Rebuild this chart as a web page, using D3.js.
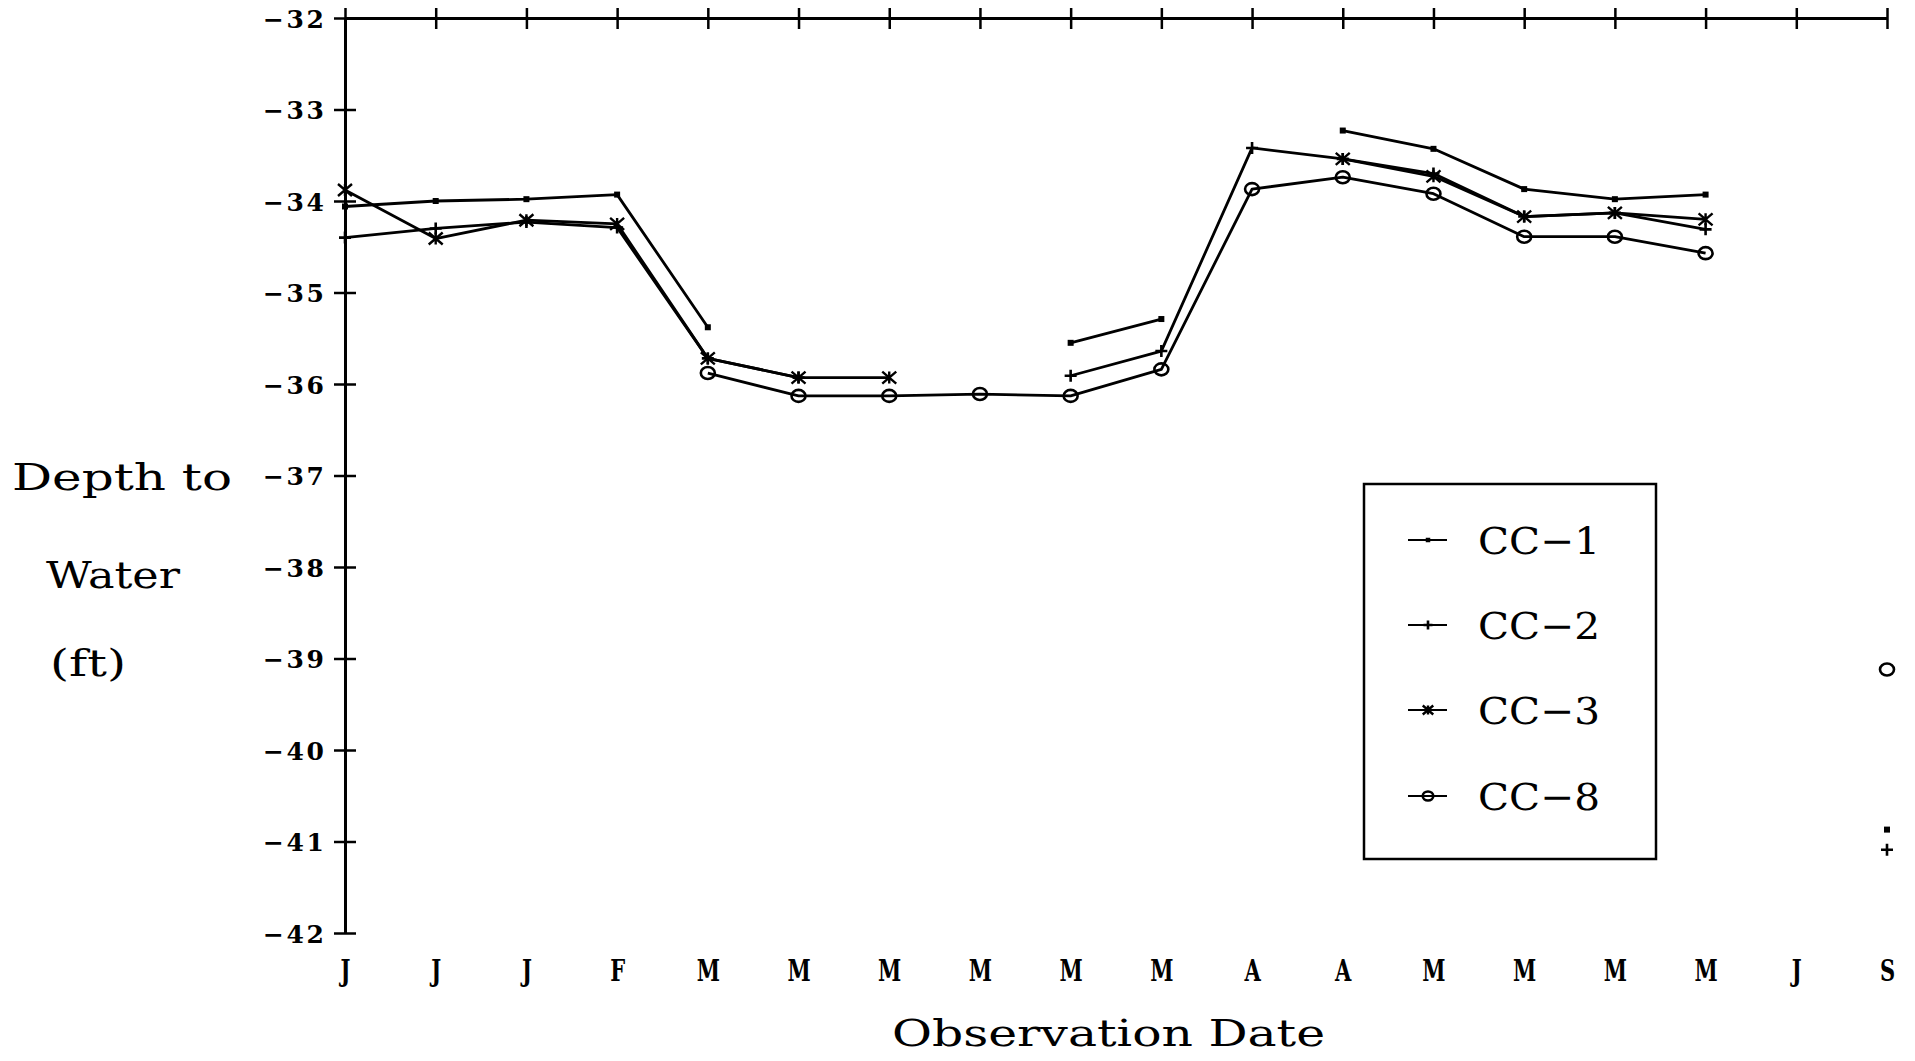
<!DOCTYPE html>
<html>
<head>
<meta charset="utf-8">
<script src="https://cdn.jsdelivr.net/npm/d3@7"></script>
<style>
  html, body { margin: 0; padding: 0; background: #fff; }
  svg { display: block; }
</style>
</head>
<body>
<svg id="chart" width="1915" height="1061"></svg>
<script>
// ---- Data ----
const dateLabels = ["J","J","J","F","M","M","M","M","M","M","A","A","M","M","M","M","J","S"];
const yTickValues = [-32,-33,-34,-35,-36,-37,-38,-39,-40,-41,-42];
const seriesNames = ["CC\u22121","CC\u22122","CC\u22123","CC\u22128"];
const cc1 = [-34.06,-34.00,-33.98,-33.93,-35.38,null,null,null,-35.55,-35.29,null,-33.23,-33.43,-33.87,-33.98,-33.93,null,-40.87];
const cc2 = [-34.40,-34.30,-34.23,-34.29,-35.72,-35.93,null,null,-35.91,-35.64,-33.42,-33.54,-33.70,-34.17,-34.13,-34.31,null,-41.09];
const cc3 = [-33.88,-34.41,-34.21,-34.25,-35.72,-35.93,-35.93,null,null,null,null,-33.54,-33.73,-34.17,-34.13,-34.20,null,null];
const cc8 = [null,null,null,null,-35.88,-36.13,-36.13,-36.11,-36.13,-35.84,-33.87,-33.74,-33.92,-34.39,-34.39,-34.57,null,-39.12];
const markerTypes = ["square","plus","star","circle"];

const series = [cc1, cc2, cc3, cc8].map((vals, k) => ({
  name: seriesNames[k],
  marker: markerTypes[k],
  values: vals.map((v, i) => ({ i, v }))
}));

// ---- Layout ----
const svg = d3.select("#chart");
const x = d3.scalePoint().domain(d3.range(dateLabels.length)).range([345, 1887]).padding(0);
const y = d3.scaleLinear().domain([-42, -32]).range([933, 18]);

const ink = "#000";

// Left axis
const gy = svg.append("g").attr("transform", `translate(${x(0)},0)`)
  .call(d3.axisLeft(y).tickValues(yTickValues).tickSizeOuter(0).tickSizeInner(0)
    .tickFormat(d => "\u2212" + Math.abs(d)));
gy.select(".domain").attr("stroke", ink).attr("stroke-width", 3);
gy.selectAll(".tick line").attr("x1", -11).attr("x2", 11).attr("stroke", ink).attr("stroke-width", 2.5);
gy.selectAll(".tick text")
  .attr("x", -21).attr("dy", "0.36em")
  .attr("font-family", "'DejaVu Serif', serif").attr("font-weight", "bold")
  .attr("font-size", 25).attr("fill", ink)
  .each(function() {
    const w = this.getComputedTextLength();
    d3.select(this).attr("textLength", 61).attr("lengthAdjust", w > 61 ? "spacingAndGlyphs" : "spacing");
  });

// Top axis (line with crossing ticks, no labels)
const gt = svg.append("g").attr("transform", `translate(0,${y(-32)})`)
  .call(d3.axisTop(x).tickSizeOuter(0).tickSizeInner(0).tickFormat(""));
gt.select(".domain").attr("stroke", ink).attr("stroke-width", 3);
gt.selectAll(".tick line").attr("y1", -10).attr("y2", 11).attr("stroke", ink).attr("stroke-width", 2.5);

// Bottom labels (no axis line)
const gb = svg.append("g").attr("transform", `translate(0,${y(-42)})`)
  .call(d3.axisBottom(x).tickSize(0).tickFormat(i => dateLabels[i]));
gb.select(".domain").remove();
gb.selectAll(".tick text")
  .attr("y", 48).attr("dy", null)
  .attr("font-family", "'DejaVu Serif', serif").attr("font-weight", "bold")
  .attr("font-size", 30).attr("fill", ink)
  .each(function() {
    const w = this.getComputedTextLength();
    d3.select(this).attr("textLength", w * 0.7).attr("lengthAdjust", "spacingAndGlyphs");
  });

// Lines
const line = d3.line().defined(d => d.v != null).x(d => x(d.i)).y(d => y(d.v));
svg.append("g").selectAll("path").data(series).join("path")
  .attr("d", s => line(s.values))
  .attr("fill", "none").attr("stroke", ink).attr("stroke-width", 2.8)
  .attr("stroke-linejoin", "round");

// Marker drawing
function drawMarker(g, type, cx, cy, s) {
  if (type === "square") {
    g.append("rect").attr("x", cx - 3 * s).attr("y", cy - 3 * s)
      .attr("width", 6 * s).attr("height", 6 * s).attr("fill", ink);
  } else if (type === "plus") {
    g.append("path").attr("d", `M${cx - 6 * s},${cy}H${cx + 6 * s}M${cx},${cy - 6 * s}V${cy + 6 * s}`)
      .attr("stroke", ink).attr("stroke-width", 2.6).attr("fill", "none");
  } else if (type === "star") {
    const a = 7 * s, b = 6 * s;
    g.append("path").attr("d",
      `M${cx},${cy - b}V${cy + b}M${cx - a},${cy - b}L${cx + a},${cy + b}M${cx - a},${cy + b}L${cx + a},${cy - b}`)
      .attr("stroke", ink).attr("stroke-width", 2.4).attr("fill", "none");
  } else if (type === "circle") {
    g.append("ellipse").attr("cx", cx).attr("cy", cy).attr("rx", 7 * s).attr("ry", 6 * s)
      .attr("stroke", ink).attr("stroke-width", 2.6).attr("fill", "none");
  }
}

const gm = svg.append("g");
series.forEach(s => {
  s.values.filter(d => d.v != null).forEach(d => drawMarker(gm, s.marker, x(d.i), y(d.v), 1));
});

// Legend
const lg = svg.append("g");
lg.append("rect").attr("x", 1364).attr("y", 484).attr("width", 292).attr("height", 375)
  .attr("fill", "#fff").attr("stroke", ink).attr("stroke-width", 2.5);
const legendRowY = [540, 625, 710, 796];
series.forEach((s, k) => {
  const cy = legendRowY[k];
  lg.append("line").attr("x1", 1408).attr("x2", 1447).attr("y1", cy).attr("y2", cy)
    .attr("stroke", ink).attr("stroke-width", 2.2);
  drawMarker(lg, s.marker, 1428, cy, 0.75);
  lg.append("text").attr("x", 1478).attr("y", cy + 14)
    .attr("font-family", "'DejaVu Serif', serif").attr("font-size", 38).attr("fill", ink)
    .attr("textLength", 122).attr("lengthAdjust", "spacingAndGlyphs")
    .text(s.name);
});

// Axis titles
const titleFont = "'DejaVu Serif', serif";
svg.append("text").attr("x", 12).attr("y", 490).attr("font-family", titleFont).attr("font-size", 38)
  .attr("fill", ink).attr("textLength", 220).attr("lengthAdjust", "spacingAndGlyphs").text("Depth to");
svg.append("text").attr("x", 46).attr("y", 588).attr("font-family", titleFont).attr("font-size", 38)
  .attr("fill", ink).attr("textLength", 134).attr("lengthAdjust", "spacingAndGlyphs").text("Water");
svg.append("text").attr("x", 50).attr("y", 676).attr("font-family", titleFont).attr("font-size", 38)
  .attr("fill", ink).attr("textLength", 76).attr("lengthAdjust", "spacingAndGlyphs").text("(ft)");
svg.append("text").attr("x", 892).attr("y", 1046).attr("font-family", titleFont).attr("font-size", 38)
  .attr("fill", ink).attr("textLength", 433).attr("lengthAdjust", "spacingAndGlyphs").text("Observation Date");
</script>
</body>
</html>
